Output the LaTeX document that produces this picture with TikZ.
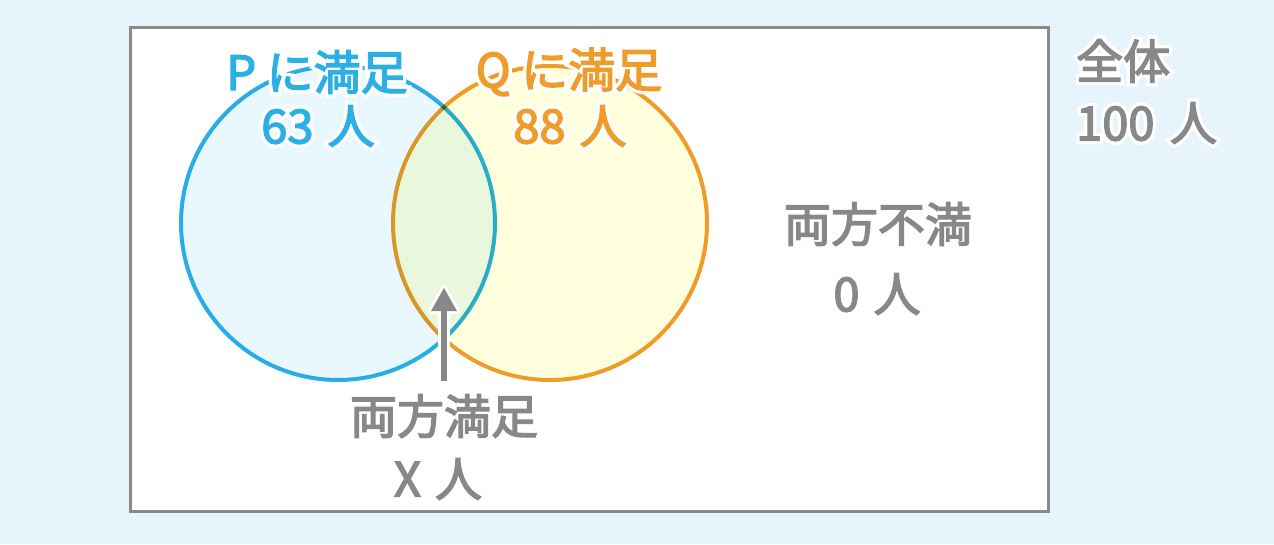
\documentclass[tikz,border=0pt]{standalone}
\usepackage{fontspec}
\setmainfont{Noto Sans CJK JP}[FakeBold=3]
\newfontfamily\halofont{Noto Sans CJK JP}[FakeBold=17]
\usetikzlibrary{calc}
\definecolor{bgblue}{HTML}{E8F4FC}
\definecolor{pblue}{HTML}{2BB0E6}
\definecolor{pfill}{HTML}{E9F7FE}
\definecolor{qorange}{HTML}{EE9C2C}
\definecolor{qfill}{HTML}{FFFFDD}
\definecolor{txtgray}{HTML}{888888}
\definecolor{framegray}{HTML}{8A8A8A}
\tikzset{
  lbl/.style={font=\fontsize{47}{47}\selectfont, inner sep=0pt, anchor=center},
  halolbl/.style={font=\halofont\fontsize{47}{47}\selectfont, inner sep=0pt, anchor=center, text=white},
  setcircle/.style={line width=4pt},
}
\newcommand{\halolabel}[6]{% name, x, y, anchor, color, text
  \node[halolbl,anchor=#4] at (#2,#3) {#6};
  \node[lbl,anchor=#4,text=#5] (#1) at (#2,#3) {#6};
}
\begin{document}
\begin{tikzpicture}[x=1pt,y=-1pt]
\useasboundingbox (0,0) rectangle (1274,544);
\fill[bgblue] (0,0) rectangle (1274,544);
\node[draw=framegray, fill=white, line width=3.5pt, minimum width=918pt, minimum height=484pt, inner sep=0pt] (frame) at (589.5,269.5) {};
\coordinate (pc) at (338,223);
\coordinate (qc) at (550,223);
\begin{scope}[blend group=multiply]
  \filldraw[setcircle, draw=pblue, fill=pfill] (pc) circle[radius=157];
  \filldraw[setcircle, draw=qorange, fill=qfill] (qc) circle[radius=157];
\end{scope}
% arrow
\coordinate (arrS) at (444,381);
\coordinate (arrT) at (444,288);
\draw[white, line width=12pt] (arrS) -- ($(arrT)+(0,20)$);
\filldraw[white, line width=6pt, line join=round] (arrT) -- ++(-13,23) -- ++(26,0) -- cycle;
\draw[txtgray, line width=6pt] (arrS) -- ($(arrT)+(0,18)$);
\fill[txtgray] (arrT) -- ++(-13,23) -- ++(26,0) -- cycle;
% labels
\halolabel{pt1}{317}{72}{center}{pblue}{P に満足}
\halolabel{pt2}{318}{126}{center}{pblue}{63\hspace{0.3em}人}
\halolabel{qt1}{569}{72}{center}{qorange}{Q に満足}
\halolabel{qt2}{570}{126}{center}{qorange}{88\hspace{0.3em}人}
\halolabel{all1}{1076}{61}{west}{txtgray}{全体}
\halolabel{all2}{1076}{123}{west}{txtgray}{100\hspace{0.33em}人}
\halolabel{non1}{878}{224}{center}{txtgray}{両方不満}
\halolabel{non2}{877}{294}{center}{txtgray}{0\hspace{0.3em}人}
\halolabel{both1}{444}{416}{center}{txtgray}{両方満足}
\halolabel{both2}{438}{479}{center}{txtgray}{X\hspace{0.3em}人}
\end{tikzpicture}
\end{document}
